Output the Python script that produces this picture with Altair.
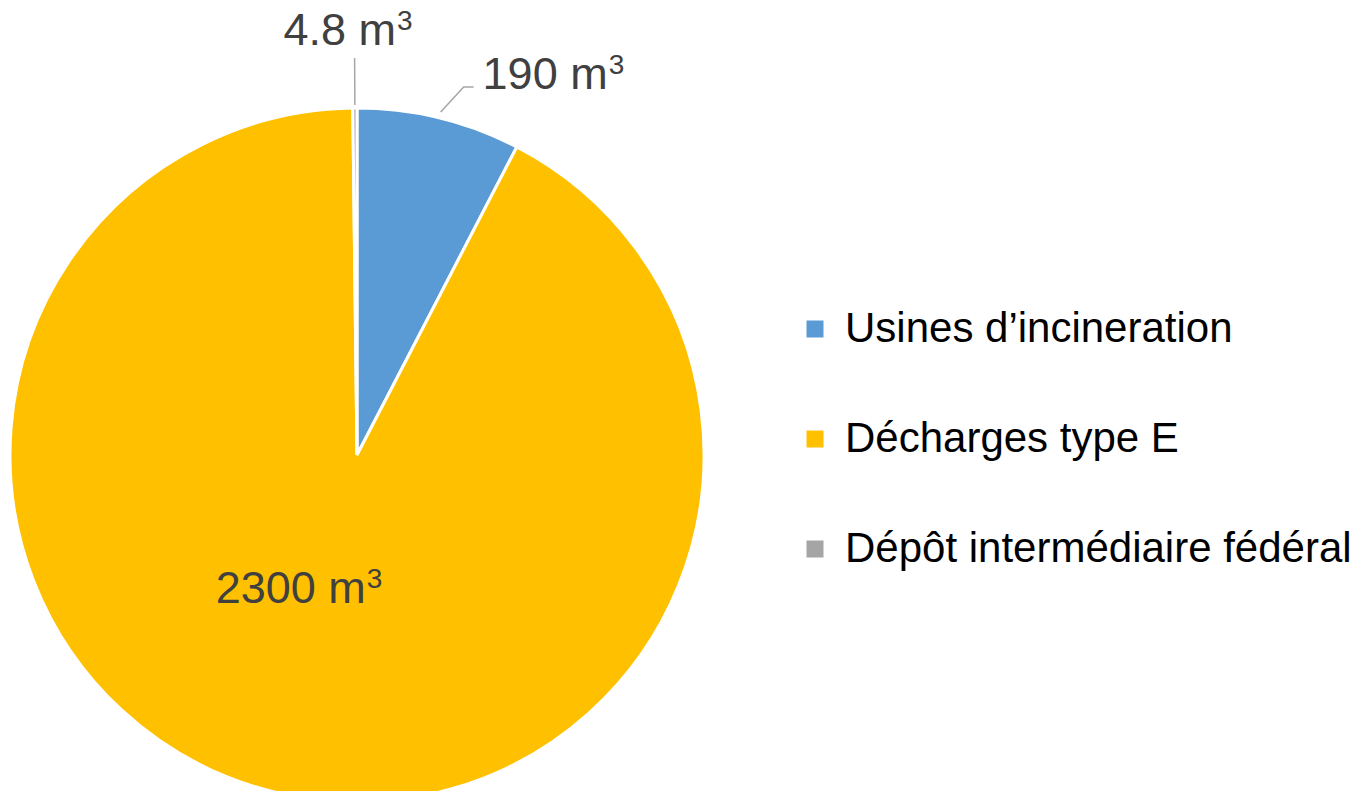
import altair as alt
import pandas as pd
import numpy as np

# ---- data ----
categories = ["Usines d’incineration", "Décharges type E", "Dépôt intermédiaire fédéral"]
volumes = [190, 2300, 4.8]
value_labels = ["190 m³", "2300 m³", "4.8 m³"]
colors = ["#5B9BD5", "#FFC000", "#A5A5A5"]

# ---- layout ----
W, H = 1348, 783          # view size (page minus 8px margins)
CX, CY = 349, 447         # pie centre inside the view
R = 347                   # pie radius
FS_MAIN, FS_SUP, SUP_RISE, SUP_GAP = 45, 28, 15, 1

df = pd.DataFrame({"cat": categories, "vol": volumes, "label": value_labels,
                   "order": list(range(len(categories)))})
total = df["vol"].sum()
cum = df["vol"].cumsum()
df["mid"] = (cum - df["vol"] / 2) / total * 2 * np.pi   # clockwise from 12 o'clock


def polar(angle, r):
    return r * np.sin(angle), r * np.cos(angle)


mid = dict(zip(df["cat"], df["mid"]))
lab_of = dict(zip(df["cat"], df["label"]))

# leader lines (start on the rim at the slice middle)
lines = []
a = mid[categories[2]]                     # 4.8 m3 : straight up
for i, r in enumerate([R + 3, R + 50]):
    x, y = polar(a, r)
    lines.append({"cat": categories[2], "pt": i, "x": x, "y": y})
a = mid[categories[0]]                     # 190 m3 : diagonal then short horizontal
sx, sy = polar(a, R + 6)
pts190 = [(sx, sy), (sx + 23, sy + 25), (sx + 33, sy + 25)]
for i, (x, y) in enumerate(pts190):
    lines.append({"cat": categories[0], "pt": i, "x": x, "y": y})
lines_df = pd.DataFrame(lines)

# label anchors: (x = end of main text / start of superscript, y = baseline)
anchors = {}
x, y = polar(mid[categories[2]], R + 63)
anchors[categories[2]] = (x + 41.5, y)
ex, ey = pts190[-1]
anchors[categories[0]] = (ex + 134, ey - 2)
x, y = polar(mid[categories[1]], 150)
anchors[categories[1]] = (x + 43.5, y - 2.3)

lab = []
for c in categories:
    t = lab_of[c]
    main, sup = t[:-1], t[-1].replace("³", "3")
    ax, ay = anchors[c]
    lab.append({"main": main, "sup": sup, "x": ax, "xs": ax + SUP_GAP,
                "y": ay, "ys": ay + SUP_RISE})
lab_df = pd.DataFrame(lab)

xscale = alt.Scale(domain=[-CX, W - CX], nice=False, zero=False)
yscale = alt.Scale(domain=[-(H - CY), CY], nice=False, zero=False)

pie = alt.Chart(df).mark_arc(outerRadius=R, stroke="white", strokeWidth=3).encode(
    theta=alt.Theta("vol:Q", stack=True),
    order=alt.Order("order:Q"),
    color=alt.Color(
        "cat:N",
        scale=alt.Scale(domain=categories, range=colors),
        legend=alt.Legend(
            title=None, orient="none", legendX=786, legendY=300,
            symbolType="square", symbolSize=289, symbolStrokeWidth=0,
            labelFontSize=42, labelFont="Liberation Sans", labelColor="#000000",
            labelOffset=9, rowPadding=68, labelLimit=800, padding=0,
        ),
    ),
    x=alt.value(CX),
    y=alt.value(CY),
)

leader = alt.Chart(lines_df).mark_line(color="#A6A6A6", strokeWidth=1.5).encode(
    x=alt.X("x:Q", scale=xscale, axis=None),
    y=alt.Y("y:Q", scale=yscale, axis=None),
    detail="cat:N",
    order="pt:Q",
)

main_txt = alt.Chart(lab_df).mark_text(
    font="Liberation Sans", fontSize=FS_MAIN, color="#404040",
    align="right", baseline="alphabetic",
).encode(
    x=alt.X("x:Q", scale=xscale, axis=None),
    y=alt.Y("y:Q", scale=yscale, axis=None),
    text="main:N",
)

sup_txt = alt.Chart(lab_df).mark_text(
    font="Liberation Sans", fontSize=FS_SUP, color="#404040",
    align="left", baseline="alphabetic",
).encode(
    x=alt.X("xs:Q", scale=xscale, axis=None),
    y=alt.Y("ys:Q", scale=yscale, axis=None),
    text="sup:N",
)

chart = alt.layer(pie, leader, main_txt, sup_txt).properties(
    width=W, height=H, padding=0, autosize=alt.AutoSizeParams(type="none"),
).configure_view(stroke=None)

chart.save("out.html", embed_options={"renderer": "svg", "actions": False})
